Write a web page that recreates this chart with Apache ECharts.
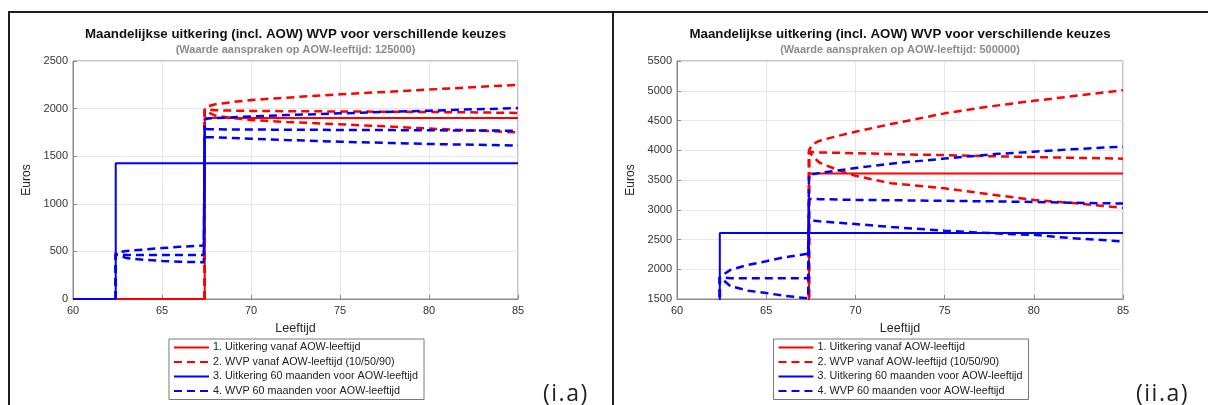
<!DOCTYPE html>
<html>
<head>
<meta charset="utf-8">
<script src="https://cdn.jsdelivr.net/npm/echarts@6/dist/echarts.min.js"></script>
<style>
  html, body { margin: 0; padding: 0; background: #fff; }
  #wrap { position: relative; width: 1208px; height: 405px; overflow: hidden; }
  #cL { position: absolute; left: 0; top: 0; width: 591px; height: 405px; }
  #cR { position: absolute; left: 613px; top: 0; width: 574px; height: 405px; }
  .frame { position: absolute; background: #1e1e1e; z-index: 10; }
  .tag { position: absolute; font-family: 'Open Sans', 'DejaVu Sans', sans-serif; font-size: 23px; line-height: 1; color: #222; letter-spacing: 1.5px; z-index: 10; }
</style>
</head>
<body>
<div id="wrap">
  <div id="cL"></div>
  <div id="cR"></div>
  <div class="frame" style="left:8px; top:11px; width:1200px; height:2px;"></div>
  <div class="frame" style="left:8px; top:11px; width:2px; height:394px;"></div>
  <div class="frame" style="left:612px; top:11px; width:2px; height:394px;"></div>
  <div class="tag" style="left:543px; top:381px;">(i.a)</div>
  <div class="tag" style="left:1136px; top:381px;">(ii.a)</div>
</div>
<script>
// ---------- shared ----------
const chartTitle = 'Maandelijkse uitkering (incl. AOW) WVP voor verschillende keuzes';
const legendNames = [
  '1. Uitkering vanaf AOW-leeftijd',
  '2. WVP vanaf AOW-leeftijd (10/50/90)',
  '3. Uitkering 60 maanden voor AOW-leeftijd',
  '4. WVP 60 maanden voor AOW-leeftijd'
];
const xTicks = [60, 65, 70, 75, 80, 85];

// ---------- panel (i.a): 125000 ----------
const L_subtitle = '(Waarde aanspraken op AOW-leeftijd: 125000)';
const L_yTicks = [0, 500, 1000, 1500, 2000, 2500];

const L_uitkAOW_age = [60, 67.4, 67.4, 85];
const L_uitkAOW_val = [0, 0, 1900, 1900];

const L_wvpAOW_age = [67.4, 67.4, 67.6, 68, 69, 70, 72, 75, 78, 80, 82, 85];
const L_wvpAOW_p10 = [0, 1990, 1960, 1925, 1900, 1880, 1860, 1835, 1810, 1790, 1775, 1750];
const L_wvpAOW_p50 = [0, 1990, 1985, 1982, 1979, 1976, 1973, 1970, 1967, 1964, 1961, 1955];
const L_wvpAOW_p90 = [0, 1990, 2025, 2045, 2070, 2090, 2115, 2150, 2180, 2200, 2220, 2250];

const L_uitk60_age = [60, 62.4, 62.4, 85];
const L_uitk60_val = [0, 0, 1425, 1425];

const L_wvp60_age = [62.4, 62.4, 63, 64, 65, 66, 67.35, 67.4, 67.6, 68, 70, 72, 75, 78, 80, 82, 85];
const L_wvp60_p10 = [0, 470, 430, 412, 400, 392, 385, 1700, 1700, 1698, 1683, 1670, 1652, 1638, 1628, 1622, 1612];
const L_wvp60_p50 = [0, 470, 462, 462, 462, 462, 462, 1785, 1784, 1782, 1780, 1778, 1776, 1774, 1772, 1770, 1768];
const L_wvp60_p90 = [0, 485, 505, 520, 535, 548, 562, 1885, 1895, 1900, 1918, 1932, 1950, 1968, 1978, 1990, 2005];

// ---------- panel (ii.a): 500000 ----------
const R_subtitle = '(Waarde aanspraken op AOW-leeftijd: 500000)';
const R_yTicks = [1500, 2000, 2500, 3000, 3500, 4000, 4500, 5000, 5500];

const R_uitkAOW_age = [60, 67.4, 67.4, 85];
const R_uitkAOW_val = [0, 0, 3610, 3610];

const R_wvpAOW_age = [67.4, 67.4, 67.6, 68, 69, 70, 72, 75, 77.5, 80, 82.5, 85];
const R_wvpAOW_p10 = [0, 3980, 3900, 3790, 3670, 3570, 3445, 3360, 3260, 3165, 3105, 3030];
const R_wvpAOW_p50 = [0, 3980, 3966, 3963, 3957, 3950, 3935, 3918, 3900, 3885, 3872, 3858];
const R_wvpAOW_p90 = [0, 4000, 4100, 4160, 4240, 4310, 4440, 4620, 4735, 4830, 4920, 5010];

const R_uitk60_age = [60, 62.4, 62.4, 85];
const R_uitk60_val = [0, 0, 2610, 2610];

const R_wvp60_age = [62.4, 62.4, 63, 64, 65, 66, 67.35, 67.4, 67.7, 68, 70, 72, 75, 78, 80, 82, 85];
const R_wvp60_p10 = [0, 1870, 1715, 1640, 1600, 1555, 1510, 2815, 2815, 2805, 2760, 2710, 2648, 2600, 2578, 2525, 2468];
const R_wvp60_p50 = [0, 1865, 1850, 1850, 1850, 1850, 1850, 3180, 3180, 3178, 3165, 3160, 3150, 3140, 3130, 3118, 3105];
const R_wvp60_p90 = [0, 1870, 1990, 2075, 2135, 2200, 2260, 3600, 3600, 3620, 3700, 3775, 3860, 3940, 3975, 4015, 4060];

// ---------- builder ----------
const RED = '#ff0000', BLUE = '#0000ff';
const FONT = "'Liberation Sans', Arial, sans-serif";

function pairs(ages, vals) { return ages.map((a, i) => [a, vals[i]]); }

function solid(name, color, ages, vals) {
  return { type: 'line', name, data: pairs(ages, vals), symbol: 'none', silent: true, animation: false,
    lineStyle: { color, width: 2 }, itemStyle: { color } };
}
function dashed(name, color, ages, vals) {
  return { type: 'line', name, data: pairs(ages, vals), symbol: 'none', silent: true, animation: false,
    lineStyle: { color, width: 2.5, type: [8, 5] }, itemStyle: { color } };
}

function buildOption(sub, yTicks, gridLR, s) {
  const axisColor = '#8a8a8a';
  return {
    backgroundColor: 'transparent',
    textStyle: { fontFamily: FONT },
    title: {
      text: chartTitle, subtext: sub, left: 'center', top: 27, padding: 0, itemGap: 3,
      textStyle: { fontFamily: FONT, fontSize: 13.3, fontWeight: 'bold', color: '#111', lineHeight: 14 },
      subtextStyle: { fontFamily: FONT, fontSize: 11, fontWeight: 'bold', color: '#8c8c8c', lineHeight: 12 }
    },
    grid: { left: gridLR, right: gridLR, top: 61, bottom: 106, show: true, borderColor: axisColor, borderWidth: 1 },
    xAxis: {
      type: 'value', min: xTicks[0], max: xTicks[xTicks.length - 1], interval: 5,
      name: 'Leeftijd', nameLocation: 'middle', nameGap: 23,
      nameTextStyle: { fontFamily: FONT, fontSize: 12.5, color: '#262626' },
      axisLine: { show: true, lineStyle: { color: axisColor } },
      axisTick: { show: true, inside: true, length: 4, lineStyle: { color: axisColor } },
      axisLabel: { fontFamily: FONT, fontSize: 11, color: '#333', margin: 6 },
      splitLine: { show: true, lineStyle: { color: '#e6e6e6', width: 1 } }
    },
    yAxis: {
      type: 'value', min: yTicks[0], max: yTicks[yTicks.length - 1], interval: 500,
      name: 'Euros', nameLocation: 'middle', nameGap: 31,
      nameTextStyle: { fontFamily: FONT, fontSize: 12, color: '#262626' },
      axisLine: { show: true, lineStyle: { color: axisColor } },
      axisTick: { show: true, inside: true, length: 4, lineStyle: { color: axisColor } },
      axisLabel: { fontFamily: FONT, fontSize: 11, color: '#333', margin: 5, formatter: v => String(v) },
      splitLine: { show: true, lineStyle: { color: '#e6e6e6', width: 1 } }
    },
    legend: {
      data: legendNames, orient: 'vertical', left: 'center', top: 339,
      itemWidth: 35, itemHeight: 10, itemGap: 3.5, padding: [3, 6, 3, 4],
      borderColor: '#7a7a7a', borderWidth: 1, backgroundColor: '#fff',
      itemStyle: { opacity: 0, borderWidth: 0 },
      textStyle: { fontFamily: FONT, fontSize: 10.8, lineHeight: 11, color: '#222', padding: [0, 0, 0, -1] },
      selectedMode: false
    },
    series: s
  };
}

const L_series = [
  solid(legendNames[0], RED, L_uitkAOW_age, L_uitkAOW_val),
  dashed(legendNames[1], RED, L_wvpAOW_age, L_wvpAOW_p10),
  dashed(legendNames[1], RED, L_wvpAOW_age, L_wvpAOW_p50),
  dashed(legendNames[1], RED, L_wvpAOW_age, L_wvpAOW_p90),
  solid(legendNames[2], BLUE, L_uitk60_age, L_uitk60_val),
  dashed(legendNames[3], BLUE, L_wvp60_age, L_wvp60_p10),
  dashed(legendNames[3], BLUE, L_wvp60_age, L_wvp60_p50),
  dashed(legendNames[3], BLUE, L_wvp60_age, L_wvp60_p90)
];
const R_series = [
  solid(legendNames[0], RED, R_uitkAOW_age, R_uitkAOW_val),
  dashed(legendNames[1], RED, R_wvpAOW_age, R_wvpAOW_p10),
  dashed(legendNames[1], RED, R_wvpAOW_age, R_wvpAOW_p50),
  dashed(legendNames[1], RED, R_wvpAOW_age, R_wvpAOW_p90),
  solid(legendNames[2], BLUE, R_uitk60_age, R_uitk60_val),
  dashed(legendNames[3], BLUE, R_wvp60_age, R_wvp60_p10),
  dashed(legendNames[3], BLUE, R_wvp60_age, R_wvp60_p50),
  dashed(legendNames[3], BLUE, R_wvp60_age, R_wvp60_p90)
];

const cL = echarts.init(document.getElementById('cL'), null, { renderer: 'canvas' });
cL.setOption(buildOption(L_subtitle, L_yTicks, 73, L_series));
const cR = echarts.init(document.getElementById('cR'), null, { renderer: 'canvas' });
cR.setOption(buildOption(R_subtitle, R_yTicks, 64, R_series));
</script>
</body>
</html>
